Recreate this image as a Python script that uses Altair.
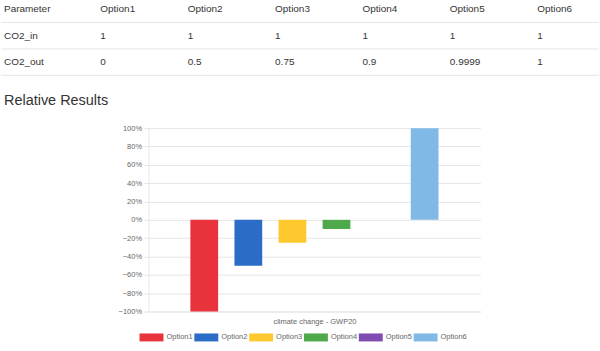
import altair as alt
import pandas as pd

# ---- data ----
options = ["Option1", "Option2", "Option3", "Option4", "Option5", "Option6"]
co2_in = ["1", "1", "1", "1", "1", "1"]
co2_out = ["0", "0.5", "0.75", "0.9", "0.9999", "1"]
row_names = ["Parameter", "CO2_in", "CO2_out"]
heading = "Relative Results"
relative = [-1.0, -0.5, -0.25, -0.1, 0.0, 1.0]
category = "climate change - GWP20"
colors = ["#e8333c", "#2b6dc6", "#fec92f", "#4ea94b", "#7e4bb1", "#80b8e6"]

LEFT = 148  # plot-area left edge of the bar chart (window px)

# ---- table ----
cells = []
rows = [options, co2_in, co2_out]
for r, vals in enumerate(rows):
    cells.append({"row": r + 0.5, "col": 0, "text": row_names[r]})
    for c, v in enumerate(vals):
        cells.append({"row": r + 0.5, "col": c + 1, "text": v})
cells_df = pd.DataFrame(cells)
lines_df = pd.DataFrame({"row": [1, 2, 3]})
head_df = pd.DataFrame({"row": [3.97], "col": [0], "text": [heading]})

TABLE_H = 112
xs = alt.Scale(domain=[0, 6], range=[12 - LEFT, 538 - LEFT])
ys = alt.Scale(domain=[0.17, 0.17 + TABLE_H / 26.5], range=[0, TABLE_H])

def text_layer(cond, dx):
    return alt.Chart(cells_df).mark_text(
        align="left", baseline="middle", font="Liberation Sans", fontSize=10,
        color="#333333", dx=dx,
    ).encode(
        x=alt.X("col:Q", scale=xs, axis=None),
        y=alt.Y("row:Q", scale=ys, axis=None),
        text="text:N",
    ).transform_filter(cond)

table_lines = alt.Chart(lines_df).mark_rule(color="#e6e6e6", strokeWidth=1).encode(
    y=alt.Y("row:Q", scale=ys, axis=None),
    x=alt.value(-LEFT),
    x2=alt.value(600 - LEFT),
)

head = alt.Chart(head_df).mark_text(
    align="left", baseline="middle", font="Liberation Sans", fontSize=14.5,
    color="#333333", dx=-9,
).encode(
    x=alt.X("col:Q", scale=xs, axis=None),
    y=alt.Y("row:Q", scale=ys, axis=None),
    text="text:N",
)

table = alt.layer(
    table_lines, text_layer("datum.col == 0", -9), text_layer("datum.col > 0", 0), head
).properties(width=600 - LEFT, height=TABLE_H)

# ---- bar chart ----
bars_df = pd.DataFrame({"option": options, "value": relative, "category": category})

FS = 7.5
bars = alt.Chart(bars_df).mark_bar().encode(
    x=alt.X(
        "option:N",
        scale=alt.Scale(domain=options, paddingInner=0.37, paddingOuter=0.95),
        axis=alt.Axis(labels=False, ticks=False, domain=True, domainColor="#e6e6e6",
                      grid=False, title=category, titleFont="Liberation Sans",
                      titleFontSize=FS, titleFontWeight="normal", titleColor="#666666",
                      titlePadding=6),
    ),
    y=alt.Y(
        "value:Q",
        scale=alt.Scale(domain=[-1, 1], nice=False),
        axis=alt.Axis(format=".0%", values=[-1, -0.8, -0.6, -0.4, -0.2, 0, 0.2, 0.4, 0.6, 0.8, 1],
                      labelFont="Liberation Sans", labelFontSize=FS, labelColor="#666666",
                      domainColor="#e6e6e6", tickColor="#e6e6e6", tickSize=5,
                      gridColor="#e6e6e6", labelPadding=2, title=None),
    ),
    color=alt.Color(
        "option:N",
        scale=alt.Scale(domain=options, range=colors),
        legend=alt.Legend(
            orient="none", legendX=-1, legendY=334, direction="horizontal", title=None,
            symbolType="M-3,-1H3V1H-3Z", symbolSize=64, symbolStrokeWidth=0,
            symbolOpacity=1, labelFont="Liberation Sans", labelFontSize=FS,
            labelColor="#666666", labelOffset=11, columnPadding=1,
        ),
    ),
).properties(width=333, height=184)

chart = alt.vconcat(table, bars, spacing=12).properties(padding=0).configure_view(
    strokeWidth=0
)

chart.save("out.html", embed_options={"renderer": "svg", "actions": False})
